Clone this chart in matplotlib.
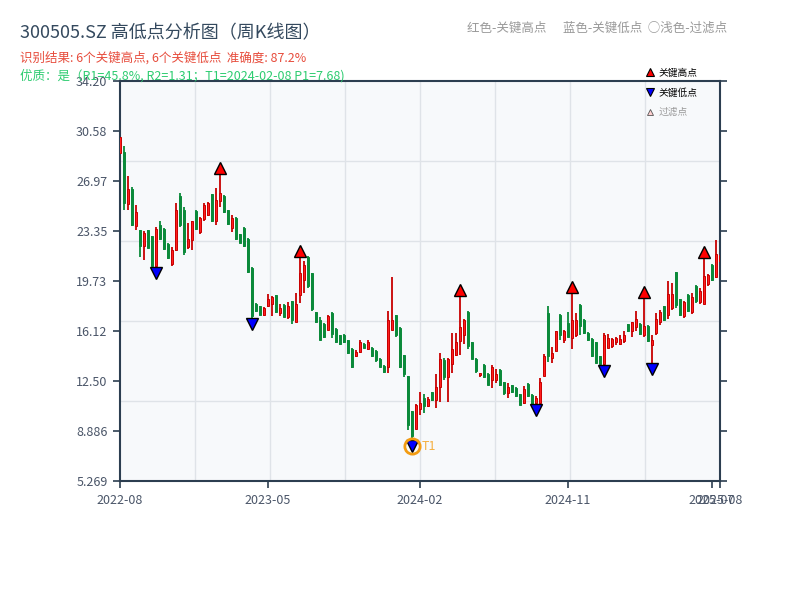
import numpy as np
import matplotlib
matplotlib.use('Agg')
import matplotlib.pyplot as plt
from matplotlib.lines import Line2D

plt.rcParams['font.family'] = ['Noto Sans CJK SC', 'DejaVu Sans']
plt.rcParams['axes.unicode_minus'] = False

# ---- weekly candles ----
opens = [29.0, 29.1, 25.3, 26.4, 23.7, 23.4, 22.3, 23.4, 23.0, 20.85,
         23.8, 23.5, 22.4, 21.0, 22.0, 25.9, 24.9, 22.2, 22.7, 24.8,
         23.3, 24.2, 24.5, 26.0, 24.1, 25.5, 25.9, 24.85, 23.6, 24.3,
         23.1, 23.6, 22.8, 20.7, 18.1, 17.9, 17.3, 17.9, 18.1, 18.7,
         17.4, 18.0, 17.1, 18.3, 16.8, 18.7, 19.8, 21.5, 20.3, 17.5,
         16.9, 16.65, 16.2, 17.4, 16.3, 15.8, 15.85, 15.45, 14.85, 14.3,
         14.6, 15.2, 14.8, 14.9, 14.7, 14.1, 13.6, 13.5, 16.2, 17.25,
         16.35, 14.35, 12.85, 10.3, 9.0, 10.5, 11.3, 10.7, 11.7, 11.1,
         12.1, 14.0, 12.8, 13.7, 14.4, 15.4, 15.8, 17.5, 15.3, 14.1,
         12.95, 13.65, 13.0, 12.6, 12.6, 13.3, 12.4, 11.6, 12.2, 12.0,
         11.55, 10.9, 12.3, 11.5, 10.9, 10.9, 12.9, 17.4, 14.2, 14.7,
         17.3, 15.5, 16.7, 15.6, 15.8, 18.0, 16.9, 16.0, 15.55, 15.3,
         14.3, 13.7, 14.9, 15.0, 15.3, 15.2, 15.4, 16.6, 16.1, 16.4,
         16.65, 15.8, 16.5, 15.1, 16.0, 16.8, 17.95, 17.3, 17.75, 20.4,
         18.4, 17.2, 18.7, 17.5, 19.4, 18.2, 18.1, 19.5, 20.9, 20.0,
         21.2]
highs = [30.2, 29.5, 27.3, 26.5, 25.2, 23.45, 23.35, 23.45, 23.0, 23.65,
         24.1, 23.55, 22.5, 22.2, 25.35, 26.07, 25.06, 23.95, 24.1, 24.87,
         24.34, 25.35, 25.47, 26.02, 26.43, 27.45, 25.95, 24.87, 24.51, 24.34,
         23.13, 23.66, 22.82, 20.72, 18.12, 17.93, 17.88, 18.8, 18.65, 18.72,
         18.07, 18.07, 18.24, 18.31, 18.84, 21.45, 21.2, 21.54, 20.34, 17.52,
         17.15, 16.67, 17.28, 17.52, 16.31, 15.83, 15.88, 15.47, 14.86, 14.74,
         15.47, 15.23, 15.47, 14.94, 14.74, 14.14, 13.66, 17.59, 20.05, 17.28,
         16.38, 14.38, 12.86, 10.3, 10.84, 11.7, 11.57, 11.37, 11.73, 13.0,
         14.5, 14.14, 14.14, 15.95, 16.0, 18.65, 16.96, 17.56, 15.35, 14.14,
         13.1, 13.71, 13.06, 13.66, 13.35, 13.35, 12.45, 12.38, 12.21, 12.04,
         11.56, 12.14, 12.33, 11.56, 11.4, 12.7, 14.45, 17.93, 14.98, 16.14,
         17.35, 16.19, 17.5, 18.84, 17.4, 18.05, 16.96, 16.02, 15.59, 15.35,
         14.33, 15.95, 15.88, 15.64, 15.71, 15.83, 16.12, 16.65, 16.79, 17.57,
         16.67, 18.53, 16.55, 15.83, 17.4, 17.64, 17.95, 19.7, 19.56, 20.41,
         18.43, 18.29, 18.77, 18.84, 19.45, 19.2, 21.42, 20.22, 20.94, 22.7,
         22.4]
lows = [29.0, 24.9, 24.9, 23.7, 23.4, 21.5, 21.25, 22.1, 20.8, 20.77,
        22.7, 22.0, 21.3, 20.8, 21.9, 23.66, 21.61, 22.02, 22.0, 23.42,
        23.13, 24.1, 24.43, 24.02, 23.78, 25.1, 24.63, 23.78, 23.3, 22.7,
        22.46, 22.22, 20.34, 17.04, 17.52, 17.28, 17.2, 17.88, 17.2, 17.45,
        17.2, 17.1, 17.0, 16.62, 16.79, 18.12, 18.84, 19.2, 17.59, 16.72,
        15.47, 15.59, 16.2, 15.59, 15.23, 15.1, 15.23, 14.45, 13.42, 14.21,
        14.55, 14.86, 14.74, 14.21, 13.9, 13.49, 13.1, 13.06, 16.2, 15.7,
        13.42, 12.82, 8.96, 8.2, 9.0, 10.05, 10.2, 10.6, 11.08, 10.53,
        11.0, 12.57, 11.0, 13.06, 14.3, 14.4, 15.18, 14.8, 14.07, 13.1,
        12.8, 12.7, 12.21, 11.97, 12.33, 12.14, 11.49, 11.25, 11.66, 11.37,
        10.77, 10.84, 11.32, 10.77, 10.82, 10.84, 12.86, 13.85, 13.78, 14.7,
        15.47, 15.28, 15.65, 14.8, 15.7, 15.83, 15.88, 15.4, 14.26, 13.78,
        13.71, 13.66, 14.86, 14.9, 15.11, 15.11, 15.23, 16.07, 15.71, 16.12,
        15.83, 15.71, 15.35, 13.78, 15.83, 16.55, 16.84, 16.99, 17.64, 17.76,
        17.23, 17.04, 17.52, 17.33, 18.12, 18.1, 18.1, 19.4, 19.73, 19.93,
        21.1]
closes = [30.15, 25.4, 26.4, 23.75, 24.75, 22.3, 23.2, 22.15, 20.85, 23.5,
          22.75, 22.05, 21.4, 22.0, 24.9, 23.8, 21.8, 22.8, 24.1, 23.5,
          24.3, 25.2, 25.4, 24.1, 25.6, 26.1, 24.7, 23.85, 24.3, 22.8,
          22.5, 22.3, 20.4, 17.2, 17.55, 17.3, 17.8, 18.4, 18.55, 17.5,
          17.75, 17.15, 17.9, 16.9, 18.1, 20.3, 20.9, 19.4, 17.7, 16.8,
          15.5, 15.7, 17.2, 15.9, 15.3, 15.15, 15.3, 14.5, 13.5, 14.6,
          15.3, 14.9, 15.3, 14.3, 14.0, 13.55, 13.15, 16.9, 16.95, 15.8,
          13.5, 13.0, 9.3, 8.5, 10.8, 10.9, 10.7, 11.2, 11.1, 12.1,
          14.1, 12.8, 14.1, 14.8, 15.3, 16.4, 16.9, 15.0, 14.1, 13.2,
          13.05, 12.8, 12.25, 13.5, 13.0, 12.2, 11.6, 12.1, 11.7, 11.4,
          10.8, 11.9, 11.4, 10.8, 11.3, 12.4, 14.3, 14.3, 14.5, 16.1,
          15.8, 16.1, 15.7, 16.9, 16.9, 16.5, 16.0, 15.45, 14.3, 13.8,
          13.75, 15.8, 15.6, 15.55, 15.6, 15.55, 15.8, 16.1, 16.75, 17.0,
          15.9, 16.5, 15.4, 15.5, 17.0, 17.5, 16.9, 18.8, 18.8, 18.0,
          17.3, 18.2, 17.6, 18.6, 18.3, 19.0, 20.1, 20.2, 19.8, 21.7,
          21.6]

key_high_idx = [25, 45, 85, 113, 131, 146]
key_low_idx = [9, 33, 73, 104, 121, 133]
t1_idx = 73

tick_idx = [0, 37, 75, 112, 148, 150]
tick_labels = ['2022-08', '2023-05', '2024-02', '2024-11', '2025-07', '2025-08']

y_min, y_max = 5.2694, 34.2004

###########################################################################################

o = np.array(opens); h = np.array(highs); l = np.array(lows); c = np.array(closes)
n = len(c)
x = np.arange(n)
up = c >= o

red_fill, red_edge = '#ff1e1e', '#c80000'
green = '#0b8a3a'

fig = plt.figure(figsize=(8, 6), dpi=100)
ax = fig.add_axes([0.15, 0.1983, 0.75, 0.6667])
ax.set_facecolor('#f7f9fb')

# light grid (5 rows x 8 columns)
for k in range(1, 5):
    ax.axhline(y_min + (y_max - y_min) * k / 5, color='#dfe3e8', lw=1, zorder=0)
for k in range(1, 8):
    ax.axvline((n - 1) * k / 8, color='#dfe3e8', lw=1, zorder=0)

# wicks and bodies
ax.vlines(x[up], l[up], h[up], color=red_edge, lw=1.3, zorder=2)
ax.vlines(x[~up], l[~up], h[~up], color=green, lw=1.3, zorder=2)
ax.bar(x[up], c[up] - o[up], bottom=o[up], width=0.62, color=red_fill,
       edgecolor=red_edge, lw=0.7, zorder=3)
ax.bar(x[~up], o[~up] - c[~up], bottom=c[~up], width=0.62, color=green,
       edgecolor=green, lw=0.7, zorder=3)

# key points
off = 0.015 * (y_max - y_min)
ax.plot(key_high_idx, h[key_high_idx] + off, ls='none', marker='^', ms=9,
        mfc='#ff0000', mec='black', mew=1, zorder=5)
ax.plot(key_low_idx, l[key_low_idx] - off, ls='none', marker='v', ms=9,
        mfc='#0000ff', mec='black', mew=1, zorder=5)
ax.plot([t1_idx], [l[t1_idx] - off], ls='none', marker='o', ms=11,
        mfc='none', mec='#f39c12', mew=2, zorder=6)
ax.text(t1_idx + 2.5, l[t1_idx] - off, 'T1', color='#f5b041', fontsize=9,
        va='center', ha='left', zorder=6)

ax.set_xlim(0, n - 1)
ax.set_ylim(y_min, y_max)
yt = np.linspace(y_min, y_max, 9)
ax.set_yticks(yt)
ax.set_yticklabels(['{:#.4g}'.format(v) for v in yt])
ax.set_xticks(tick_idx)
ax.set_xticklabels(tick_labels)

for s in ax.spines.values():
    s.set_color('#2c3e50')
    s.set_linewidth(1.5)
ax.tick_params(axis='both', direction='out', length=5, width=1.2, color='#2c3e50',
               labelcolor='#4a5568', labelsize=9, pad=4)
ax.tick_params(axis='y', right=True)

handles = [Line2D([], [], ls='none', marker='^', ms=6, mfc='#ff0000', mec='black', mew=0.8),
           Line2D([], [], ls='none', marker='v', ms=6, mfc='#0000ff', mec='black', mew=0.8),
           Line2D([], [], ls='none', marker='^', ms=5, mfc='#ffd0d0', mec='#555555', mew=0.6)]
leg = ax.legend(handles, ['关键高点', '关键低点', '过滤点'], loc='upper left',
                bbox_to_anchor=(0.86, 1.055), frameon=False, fontsize=7,
                handlelength=1.0, handletextpad=0.4, labelspacing=1.0)
leg.get_texts()[2].set_color('#999999')

fig.text(0.025, 0.945, '300505.SZ 高低点分析图（周K线图）', fontsize=13,
         color='#34495e', va='center')
fig.text(0.025, 0.903, '识别结果: 6个关键高点, 6个关键低点  准确度: 87.2%',
         fontsize=9, color='#e74c3c', va='center')
fig.text(0.025, 0.873, '优质：是（R1=45.8%, R2=1.31；T1=2024-02-08 P1=7.68)',
         fontsize=9, color='#2ecc71', va='center')
fig.text(0.909, 0.953, '红色-关键高点      蓝色-关键低点  ○浅色-过滤点',
         fontsize=9, color='#999999', va='center', ha='right')

plt.savefig('out.png', dpi=100)
plt.close()
